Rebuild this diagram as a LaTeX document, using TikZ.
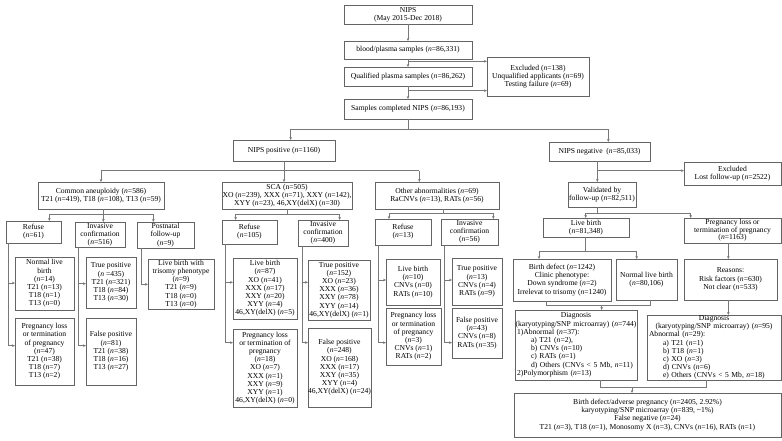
\documentclass[tikz,border=0pt]{standalone}
\usepackage{fontspec}
\setmainfont{Liberation Serif}
\usetikzlibrary{arrows.meta}
\definecolor{lc}{RGB}{120,120,120}
\definecolor{bc}{RGB}{100,100,100}
\newcommand{\Nn}{\textit{n}}
\newcommand{\fsz}{\fontsize{7.6}{8.2}\selectfont}
\newcommand{\fszt}{\fontsize{7.6}{7.5}\selectfont}
\begin{document}
\begin{tikzpicture}[x=1pt,y=-1pt,
 bx/.style={draw=bc,line width=0.6pt,align=center,inner sep=0pt,outer sep=0pt,font=\fsz},
 arr/.style={draw=lc,line width=0.6pt,-{Stealth[length=3pt,width=2.6pt]}},
 ln/.style={draw=lc,line width=0.6pt}]
\useasboundingbox (0,0) rectangle (782,441);
% top chain
\node[bx,minimum width=128,minimum height=19] (nips) at (408,14.5) {NIPS\\(May 2015-Dec 2018)};
\node[bx,minimum width=128,minimum height=18] (blood) at (408,50) {blood/plasma samples (\Nn=86,331)};
\node[bx,minimum width=128,minimum height=19] (qual) at (408,76.5) {Qualified plasma samples (\Nn=86,262)};
\node[bx,minimum width=102,minimum height=39] (excl1) at (538,76.5) {Excluded (\Nn=138)\\Unqualified applicants (\Nn=69)\\Testing failure (\Nn=69)};
\node[bx,minimum width=128,minimum height=20] (samp) at (408,109) {Samples completed NIPS (\Nn=86,193)};
\node[bx,minimum width=102,minimum height=21] (npos) at (284,150.5) {NIPS positive (\Nn=1160)};
\node[bx,minimum width=101,minimum height=19] (nneg) at (599.5,151.5) {NIPS negative\ \ (\Nn=85,033)};
\node[bx,minimum width=97,minimum height=23] (excl2) at (732.5,173.5) {Excluded\\Lost follow-up (\Nn=2522)};
% second level
\node[bx,minimum width=126,minimum height=27] (ca) at (101,195.5) {Common aneuploidy (\Nn=586)\\T21 (\Nn=419), T18 (\Nn=108), T13 (\Nn=59)};
\node[bx,minimum width=130,minimum height=27] (sca) at (287,195.5) {SCA (n=505)\\XO (\Nn=239), XXX (\Nn=71), XXY (\Nn=142),\\XYY (\Nn=23), 46,XY(delX) (\Nn=30)};
\node[bx,minimum width=124,minimum height=27] (oth) at (437,195.5) {Other abnormalities (\Nn=69)\\RaCNVs (\Nn=13), RATs (\Nn=56)};
\node[bx,minimum width=68,minimum height=25] (val) at (602,194.5) {Validated by\\follow-up (\Nn=82,511)};
% common aneuploidy branch
\node[bx,minimum width=55,minimum height=22] (rA) at (33.5,232) {Refuse\\(\Nn=61)};
\node[bx,minimum width=50,minimum height=25] (iA) at (100,234.5) {Invasive\\confirmation\\(\Nn=516)};
\node[bx,minimum width=57,minimum height=26] (pA) at (165.5,235) {Postnatal\\follow-up\\(\Nn=9)};
\node[bx,minimum width=59,minimum height=53] (nlA) at (44.5,283.5) {Normal live\\birth\\(\Nn=14)\\T21 (\Nn=13)\\T18 (\Nn=1)\\T13 (\Nn=0)};
\node[bx,minimum width=59,minimum height=67] (plA) at (44.5,351.5) {Pregnancy loss\\or termination\\of pregnancy\\(\Nn=47)\\T21 (\Nn=38)\\T18 (\Nn=7)\\T13 (\Nn=2)};
\node[bx,minimum width=50,minimum height=51] (tpA) at (111,282.5) {True positive\\(\Nn{} =435)\\T21 (\Nn=321)\\T18 (\Nn=84)\\T13 (\Nn=30)};
\node[bx,minimum width=50,minimum height=67] (fpA) at (111,351.5) {False positive\\(\Nn=81)\\T21 (\Nn=38)\\T18 (\Nn=16)\\T13 (\Nn=27)};
\node[bx,minimum width=66,minimum height=50] (lbtA) at (181,284) {Live birth with\\trisomy phenotype\\(\Nn=9)\\T21 (\Nn=9)\\T18 (\Nn=0)\\T13 (\Nn=0)};
% SCA branch
\node[bx,minimum width=55,minimum height=24] (rB) at (249.5,232) {Refuse\\(\Nn=105)};
\node[bx,minimum width=50,minimum height=26] (iB) at (323,233) {Invasive\\confirmation\\(\Nn=400)};
\node[bx,minimum width=64,minimum height=61] (lbB) at (265,288.5) {Live birth\\(\Nn=87)\\XO (\Nn=41)\\XXX (\Nn=17)\\XXY (\Nn=20)\\XYY (\Nn=4)\\46,XY(delX) (\Nn=5)};
\node[bx,minimum width=64,minimum height=78] (plB) at (265,368) {Pregnancy loss\\or termination of\\pregnancy\\(\Nn=18)\\XO (\Nn=7)\\XXX (\Nn=1)\\XXY (\Nn=9)\\XYY (\Nn=1)\\46,XY(delX) (\Nn=0)};
\node[bx,minimum width=62,minimum height=60] (tpB) at (339,290) {True positive\\(\Nn=152)\\XO (\Nn=23)\\XXX (\Nn=36)\\XXY (\Nn=78)\\XYY (\Nn=14)\\46,XY(delX) (\Nn=1)};
\node[bx,minimum width=63,minimum height=79] (fpB) at (339.5,367.5) {False positive\\(\Nn=248)\\XO (\Nn=168)\\XXX (\Nn=17)\\XXY (\Nn=35)\\XYY (\Nn=4)\\46,XY(delX) (\Nn=24)};
% other abnormalities branch
\node[bx,minimum width=56,minimum height=26] (rC) at (403,232) {Refuse\\(\Nn=13)};
\node[bx,minimum width=57,minimum height=26] (iC) at (469.5,232) {Invasive\\confirmation\\(\Nn=56)};
\node[bx,minimum width=54,minimum height=46] (lbC) at (413,282) {Live birth\\(\Nn=10)\\CNVs (\Nn=0)\\RATs (\Nn=10)};
\node[bx,minimum width=55,minimum height=57] (plC) at (413.5,336.5) {Pregnancy loss\\or termination\\of pregnancy\\(\Nn=3)\\CNVs (\Nn=1)\\RATs (\Nn=2)};
\node[bx,minimum width=50,minimum height=47] (tpC) at (477,281.5) {True positive\\(\Nn=13)\\CNVs (\Nn=4)\\RATs (\Nn=9)};
\node[bx,minimum width=50,minimum height=50] (fpC) at (477,333) {False positive\\(\Nn=43)\\CNVs (\Nn=8)\\RATs (\Nn=35)};
% negative branch
\node[bx,minimum width=86,minimum height=19] (lb) at (586,227.5) {Live birth\\(\Nn=81,348)};
\node[bx,minimum width=97,minimum height=25,font=\fszt] (plneg) at (732.5,230.5) {Pregnancy loss or\\termination of pregnancy\\(\Nn=1163)};
\node[bx,minimum width=98,minimum height=42] (bd) at (562,280) {Birth defect (\Nn=1242)\\Clinic phenotype:\\Down syndrome (\Nn=2)\\Irrelevat to trisomy (\Nn=1240)};
\node[bx,minimum width=61,minimum height=41] (nlb) at (646.5,279.5) {Normal live birth\\(\Nn=80,106)};
\node[bx,minimum width=93,minimum height=41] (reas) at (730.5,279.5) {Reasons:\\Risk factors (\Nn=630)\\Not clear (\Nn=533)};
\node[bx,minimum width=122,minimum height=70,text width=118,align=left] (dxl) at (576,345) {\makebox[118pt][c]{Diagnosis}\\\makebox[118pt][c]{(karyotyping/SNP microarray) (\Nn=744)}\\1)Abnormal (\Nn=37):\\\hspace*{14pt}a) T21 (\Nn=2),\\\hspace*{14pt}b) CNVs (\Nn=10)\\\hspace*{14pt}c) RATs (\Nn=1)\\\hspace*{14pt}d) Others (CNVs < 5 Mb, \Nn=11)\\2)Polymorphism (\Nn=13)};
\node[bx,minimum width=134,minimum height=65,text width=130,align=left] (dxr) at (714,347.5) {\makebox[130pt][c]{Diagnosis}\\\makebox[130pt][c]{(karyotyping/SNP microarray) (\Nn=95)}\\Abnormal (\Nn=29):\\\hspace*{14pt}a) T21 (\Nn=1)\\\hspace*{14pt}b) T18 (\Nn=1)\\\hspace*{14pt}c) XO (\Nn=3)\\\hspace*{14pt}d) CNVs (\Nn=6)\\\hspace*{14pt}e) Others (CNVs < 5 Mb, \Nn=18)};
\node[bx,minimum width=267,minimum height=44] (bot) at (647.5,415) {Birth defect/adverse pregnancy (\Nn=2405, 2.92\%)\\karyotyping/SNP microarray (\Nn=839, {\textasciitilde}1\%)\\False negative (\Nn=24)\\T21 (\Nn=3), T18 (\Nn=1), Monosomy X (\Nn=3), CNVs (\Nn=16), RATs (\Nn=1)};
% ---------- connectors: top ----------
\draw[arr] (nips) -- (blood);
\draw[arr] (blood) -- (qual);
\coordinate (j1) at (408,61.3);
\draw[arr] (j1) -- (j1 -| excl1.west);
\draw[arr] (qual) -- (samp);
\coordinate (j2) at (408,90.7);
\draw[arr] (j2) -- (j2 -| excl1.west);
\coordinate (j3) at (408,129);
\coordinate (jA) at (290.7,129);
\coordinate (jB) at (608.3,129);
\draw[ln] (samp) -- (j3);
\draw[ln] (jA) -- (jB);
\draw[arr] (jA) -- (jA |- npos.north);
\draw[arr] (jB) -- (jB |- nneg.north);
% positive
\coordinate (jC) at (101,170.7);
\coordinate (jD) at (419.3,170.7);
\draw[arr] (npos.south) -- (npos.south |- sca.north);
\draw[ln] (jC) -- (jD);
\draw[arr] (jC) -- (jC |- ca.north);
\draw[arr] (jD) -- (jD |- oth.north);
% negative
\coordinate (jE) at (597.3,170.7);
\draw[arr] (jE |- nneg.south) -- (jE |- val.north);
\draw[arr] (jE) -- (jE -| excl2.west);
\coordinate (jF) at (597.3,213.3);
\coordinate (jF1) at (585.7,213.3);
\coordinate (jF2) at (690.7,213.3);
\draw[ln] (jF |- val.south) -- (jF);
\draw[ln] (jF1) -- (jF2);
\draw[arr] (jF1) -- (jF1 |- lb.north);
\draw[arr] (jF2) -- (jF2 |- plneg.north);
\coordinate (jG) at (585.7,251.7);
\coordinate (jG1) at (539,251.7);
\coordinate (jG2) at (636.7,251.7);
\draw[ln] (jG |- lb.south) -- (jG);
\draw[ln] (jG1) -- (jG2);
\draw[arr] (jG1) -- (jG1 |- bd.north);
\draw[arr] (jG2) -- (jG2 |- nlb.north);
\coordinate (jH) at (728.3,300);
\draw[arr] (jH |- plneg.south) -- (jH |- reas.north);
\draw[arr] (jH |- reas.south) -- (jH |- dxr.north);
\coordinate (jI1) at (546,305);
\coordinate (jI2) at (650,305);
\coordinate (jI) at (601.7,305);
\draw[ln] (jI1 |- bd.south) -- (jI1) -- (jI2) -- (jI2 |- nlb.south);
\draw[arr] (jI) -- (jI |- dxl.north);
\coordinate (jJ1) at (600,387);
\coordinate (jJ2) at (706.7,387);
\coordinate (jJ) at (632,387);
\draw[ln] (jJ1 |- dxl.south) -- (jJ1) -- (jJ2) -- (jJ2 |- dxr.south);
\draw[arr] (jJ) -- (jJ |- bot.north);
% common aneuploidy
\coordinate (k0) at (103.3,214);
\coordinate (k1) at (49.3,214);
\coordinate (k2) at (153.3,214);
\draw[ln] (k0 |- ca.south) -- (k0);
\draw[ln] (k1) -- (k2);
\draw[arr] (k1) -- (k1 |- rA.north);
\draw[arr] (k0) -- (k0 |- iA.north);
\draw[arr] (k2) -- (k2 |- pA.north);
\coordinate (r1) at (8.3,283);
\coordinate (r2) at (8.3,345.7);
\draw[ln] (r2 |- rA.south) -- (r2);
\draw[arr] (r1) -- (r1 -| nlA.west);
\draw[arr] (r2) -- (r2 -| plA.west);
\coordinate (i1) at (78.7,283.7);
\coordinate (i2) at (78.7,345.7);
\draw[ln] (i2 |- iA.south) -- (i2);
\draw[arr] (i1) -- (i1 -| tpA.west);
\draw[arr] (i2) -- (i2 -| fpA.west);
\coordinate (p1) at (141,284.3);
\draw[arr] (p1 |- pA.south) -- (p1) -- (p1 -| lbtA.west);
% SCA
\coordinate (s0) at (287.3,214);
\coordinate (s1) at (235.7,214);
\coordinate (s2) at (339.7,214);
\draw[ln] (s0 |- sca.south) -- (s0);
\draw[ln] (s1) -- (s2);
\draw[arr] (s1) -- (s1 |- rB.north);
\draw[arr] (s2) -- (s2 |- iB.north);
\coordinate (b1) at (225.7,282.3);
\coordinate (b2) at (225.7,342.7);
\draw[ln] (b2 |- rB.south) -- (b2);
\draw[arr] (b1) -- (b1 -| lbB.west);
\draw[arr] (b2) -- (b2 -| plB.west);
\coordinate (c1) at (302,282.3);
\coordinate (c2) at (302,342.7);
\draw[ln] (c2 |- iB.south) -- (c2);
\draw[arr] (c1) -- (c1 -| tpB.west);
\draw[arr] (c2) -- (c2 -| fpB.west);
% other
\coordinate (o0) at (443.7,213.3);
\coordinate (o1) at (389,213.3);
\coordinate (o2) at (493.3,213.3);
\draw[ln] (o0 |- oth.south) -- (o0);
\draw[ln] (o1) -- (o2);
\draw[arr] (o1) -- (o1 |- rC.north);
\draw[arr] (o2) -- (o2 |- iC.north);
\coordinate (d1) at (378.3,280);
\coordinate (d2) at (378.3,342.7);
\draw[ln] (d2 |- rC.south) -- (d2);
\draw[arr] (d1) -- (d1 -| lbC.west);
\draw[arr] (d2) -- (d2 -| plC.west);
\coordinate (e1) at (444,280);
\coordinate (e2) at (444,342.7);
\draw[ln] (e2 |- iC.south) -- (e2);
\draw[arr] (e1) -- (e1 -| tpC.west);
\draw[arr] (e2) -- (e2 -| fpC.west);
\end{tikzpicture}
\end{document}
